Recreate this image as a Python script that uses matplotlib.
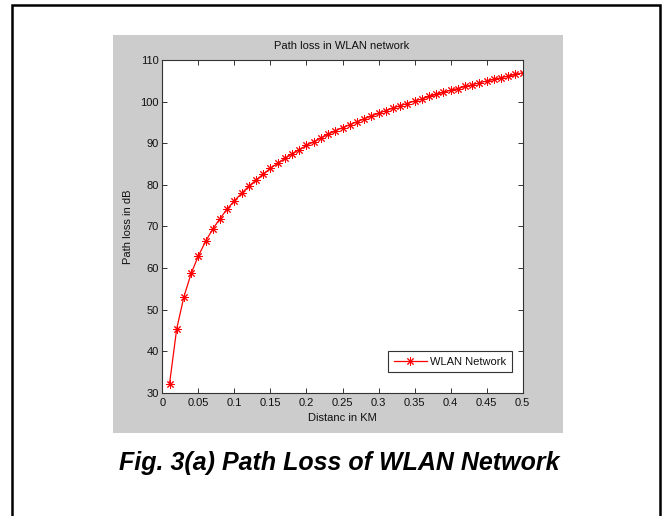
import matplotlib
matplotlib.use("Agg")
import matplotlib.pyplot as plt
from matplotlib.patches import Rectangle

plt.rcParams['font.family'] = ['Liberation Sans', 'DejaVu Sans']

# distance (km) and path loss (dB)
distance_km = [0.01, 0.02, 0.03, 0.04, 0.05, 0.06, 0.07, 0.08, 0.09, 0.10,
               0.11, 0.12, 0.13, 0.14, 0.15, 0.16, 0.17, 0.18, 0.19, 0.20,
               0.21, 0.22, 0.23, 0.24, 0.25, 0.26, 0.27, 0.28, 0.29, 0.30,
               0.31, 0.32, 0.33, 0.34, 0.35, 0.36, 0.37, 0.38, 0.39, 0.40,
               0.41, 0.42, 0.43, 0.44, 0.45, 0.46, 0.47, 0.48, 0.49, 0.50]
path_loss_db = [32.1, 45.4, 53.1, 58.7, 62.9, 66.4, 69.4, 71.9, 74.2, 76.2,
                78.0, 79.7, 81.2, 82.6, 84.0, 85.2, 86.4, 87.5, 88.5, 89.5,
                90.4, 91.3, 92.2, 93.0, 93.8, 94.5, 95.2, 95.9, 96.6, 97.2,
                97.9, 98.5, 99.1, 99.6, 100.2, 100.7, 101.3, 101.8, 102.3, 102.8,
                103.2, 103.7, 104.1, 104.6, 105.0, 105.4, 105.8, 106.2, 106.6, 107.0]

xticks = [0, 0.05, 0.1, 0.15, 0.2, 0.25, 0.3, 0.35, 0.4, 0.45, 0.5]
xtick_labels = ['0', '0.05', '0.1', '0.15', '0.2', '0.25', '0.3', '0.35', '0.4', '0.45', '0.5']
yticks = [30, 40, 50, 60, 70, 80, 90, 100, 110]

W, H = 667, 516
fig = plt.figure(figsize=(W / 100, H / 100), dpi=100, facecolor='white')

# black page frame (runs off the bottom edge)
fig.patches.append(Rectangle((12 / W, -0.05), (659.5 - 12) / W, 1 - 5 / H + 0.05,
                             transform=fig.transFigure, fill=False,
                             edgecolor='black', linewidth=1.8, zorder=-10))
# grey figure background
fig.patches.append(Rectangle((113 / W, 1 - 433 / H), (563 - 113) / W, (433 - 35) / H,
                             transform=fig.transFigure, facecolor='#cccccc',
                             edgecolor='none', zorder=-10))

ax = fig.add_axes([162.3 / W, 1 - 392.7 / H, (522.7 - 162.3) / W, (392.7 - 60.3) / H])
ax.set_zorder(5)
ax.set_facecolor('white')

ax.plot(distance_km, path_loss_db, color='red', linewidth=0.9,
        marker=(8, 2, 0), markersize=6, markeredgewidth=0.7,
        markeredgecolor='red', label='WLAN Network')

ax.set_xlim(0, 0.5)
ax.set_ylim(30, 110)
ax.set_xticks(xticks)
ax.set_xticklabels(xtick_labels)
ax.set_yticks(yticks)
ax.tick_params(direction='in', length=3.6, width=0.7, top=True, right=True,
               labelsize=8, colors='#111111', color='#333333')
ax.tick_params(axis='x', pad=4)
ax.tick_params(axis='y', pad=2.5)
for s in ax.spines.values():
    s.set_color('#333333')
    s.set_linewidth(0.8)

ax.set_xlabel('Distanc in KM', fontsize=8, color='#111111')
ax.set_ylabel('Path loss in dB', fontsize=8, color='#111111')
ax.xaxis.set_label_coords(0.5, (392.7 - 413) / 332.4)
ax.yaxis.set_label_coords((133 - 162.3) / 360.4, 0.5)

fig.text(342 / W, 1 - 45.7 / H, 'Path loss in WLAN network', fontsize=8,
         color='#111111', ha='center', va='center')

leg = ax.legend(loc='lower right', bbox_to_anchor=(0.970, 0.062), fontsize=8,
                fancybox=False, framealpha=1, edgecolor='#333333',
                handlelength=3, handletextpad=0.3, borderaxespad=0,
                borderpad=0.5)
leg.get_frame().set_linewidth(0.8)
for t in leg.get_texts():
    t.set_color('#111111')

fig.text(339 / W, 1 - 463 / H, 'Fig. 3(a) Path Loss of WLAN Network',
         fontsize=18, fontweight='bold', fontstyle='italic',
         ha='center', va='center', color='black')

fig.savefig('out.png', dpi=100, facecolor='white')
